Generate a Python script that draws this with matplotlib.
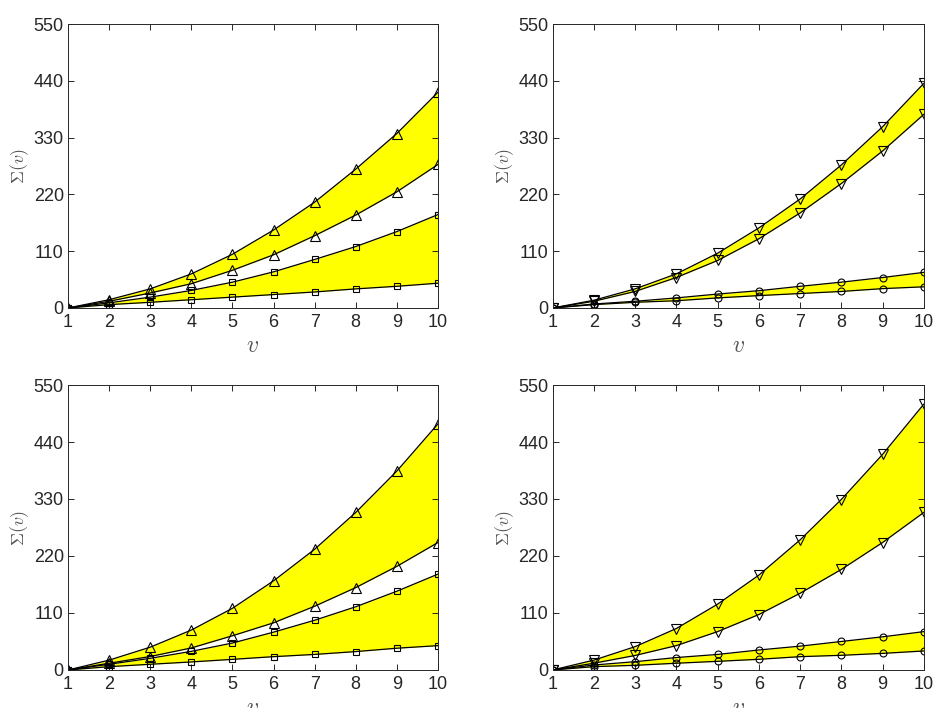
import numpy as np
import matplotlib.pyplot as plt

plt.rcParams['font.family'] = ['Liberation Sans', 'DejaVu Sans']
plt.rcParams['mathtext.fontset'] = 'cm'

# =========================
# DATA
# =========================

v = [1, 2, 3, 4, 5, 6, 7, 8, 9, 10]

# top left
tl_tri_hi = [0, 16, 37, 66, 104, 151, 205, 269, 338, 418]
tl_tri_lo = [0, 13, 29, 47, 73, 103, 140, 180, 225, 278]
tl_sq_hi = [0, 10, 21, 34, 50, 70, 94, 119, 148, 181]
tl_sq_lo = [0, 6.5, 11, 16, 21, 26, 31, 37, 42, 48]

# top right
tr_tri_hi = [0, 15, 37, 66, 106, 155, 211, 277, 351, 435]
tr_tri_lo = [0, 13, 32, 59, 92, 134, 184, 241, 304, 375]
tr_c_hi = [0, 7.7, 13, 19.5, 27, 33.5, 42, 50, 59, 69]
tr_c_lo = [0, 6.5, 11, 14, 19.5, 24, 28, 32, 37.5, 41]

# bottom left
bl_tri_hi = [0, 19, 44, 77, 119, 172, 233, 304, 384, 475]
bl_tri_lo = [0, 13, 26, 42.5, 66, 91, 123, 159, 200, 246]
bl_sq_hi = [0, 11, 22.5, 36, 52, 73, 96, 122, 152, 185]
bl_sq_lo = [0, 6.4, 11, 15.5, 20.5, 25.7, 30, 35.5, 42, 47]

# bottom right
br_tri_hi = [0, 19, 45, 80, 127, 183, 251, 329, 416, 513]
br_tri_lo = [0, 13, 28, 47, 74, 107, 148, 194, 246, 304]
br_c_hi = [0, 9.6, 16, 24, 30, 38.6, 46, 55, 64, 74]
br_c_lo = [0, 6.4, 9, 13, 16.7, 20.6, 25.7, 28.3, 32, 36.7]

yticks = [0, 110, 220, 330, 440, 550]

panels = [
    (tl_tri_hi, tl_tri_lo, "^", tl_sq_hi, tl_sq_lo, "s"),
    (tr_tri_hi, tr_tri_lo, "v", tr_c_hi, tr_c_lo, "o"),
    (bl_tri_hi, bl_tri_lo, "^", bl_sq_hi, bl_sq_lo, "s"),
    (br_tri_hi, br_tri_lo, "v", br_c_hi, br_c_lo, "o"),
]

# axes rectangles in figure fractions
rects = [
    [0.0727, 0.565, 0.3957, 0.401],
    [0.591, 0.565, 0.397, 0.401],
    [0.0727, 0.0537, 0.3957, 0.4025],
    [0.591, 0.0537, 0.397, 0.4025],
]

msize = {"^": 6.5, "v": 6.5, "s": 4.5, "o": 5}

# =========================
# PLOT
# =========================

fig = plt.figure(figsize=(9.35, 7.08), dpi=100)

for rect, (a_hi, a_lo, ma, b_hi, b_lo, mb) in zip(rects, panels):
    ax = fig.add_axes(rect)

    ax.fill_between(v, a_lo, a_hi, color="#ffff00", lw=0)
    ax.fill_between(v, b_lo, b_hi, color="#ffff00", lw=0)

    for ys, m in [(a_hi, ma), (a_lo, ma), (b_hi, mb), (b_lo, mb)]:
        ax.plot(v, ys, color="black", lw=0.9, marker=m,
                markersize=msize[m], markerfacecolor="none",
                markeredgecolor="black", markeredgewidth=0.8)

    ax.set_xlim(1, 10)
    ax.set_ylim(0, 550)
    ax.set_xticks(v)
    ax.set_yticks(yticks)

    ax.tick_params(direction="in", top=True, right=True, length=4,
                   width=0.7, labelsize=13, colors="#262626")
    ax.tick_params(axis="x", pad=4)
    ax.tick_params(axis="y", pad=3)
    for s in ax.spines.values():
        s.set_linewidth(0.7)
        s.set_color("#262626")

    ax.set_xlabel(r"$v$", fontsize=17, color="#555555", labelpad=3)
    ax.set_ylabel(r"$\Sigma(v)$", fontsize=13, color="#555555", labelpad=2)

plt.savefig("out.png", dpi=100)
